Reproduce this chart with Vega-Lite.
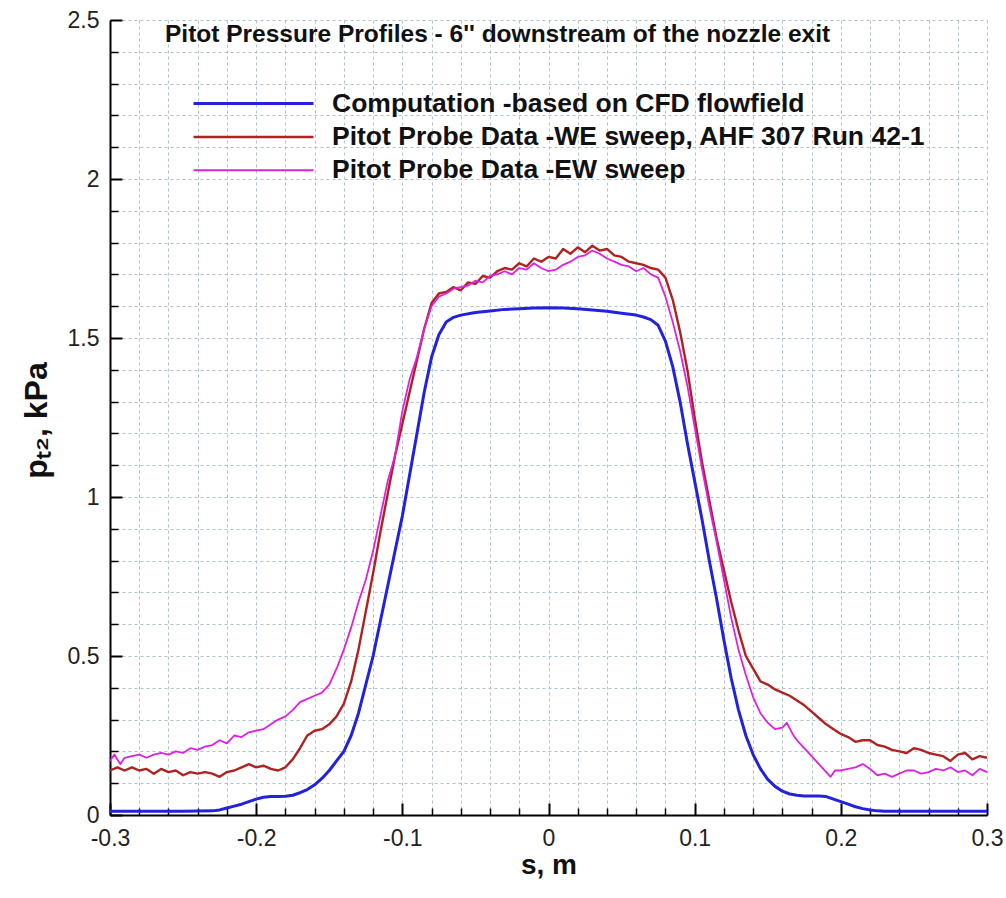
{
  "$schema": "https://vega.github.io/schema/vega-lite/v6.json",
  "autosize": "none",
  "width": 877,
  "height": 795,
  "padding": {"left": 110, "top": 20, "right": 19, "bottom": 83},
  "background": "white",
  "title": {"text": "Pitot Pressure Profiles - 6'' downstream of the nozzle exit", "anchor": "start", "frame": "group", "orient": "top", "offset": -38, "dx": 55, "font": "Liberation Sans", "fontSize": 24.5, "fontWeight": "bold", "color": "#111"},
  "config": {"view": {"stroke": null}},
  "data": {"values": [
    {"g":"CFD","s":-0.3,"p":0.012},{"g":"CFD","s":-0.25,"p":0.012},{"g":"CFD","s":-0.23,"p":0.013},{"g":"CFD","s":-0.225,"p":0.016},{"g":"CFD","s":-0.22,"p":0.022},{"g":"CFD","s":-0.215,"p":0.028},{"g":"CFD","s":-0.21,"p":0.034},{"g":"CFD","s":-0.205,"p":0.042},{"g":"CFD","s":-0.2,"p":0.05},{"g":"CFD","s":-0.195,"p":0.056},{"g":"CFD","s":-0.19,"p":0.058},{"g":"CFD","s":-0.185,"p":0.058},{"g":"CFD","s":-0.18,"p":0.059},{"g":"CFD","s":-0.175,"p":0.062},{"g":"CFD","s":-0.17,"p":0.07},{"g":"CFD","s":-0.165,"p":0.08},{"g":"CFD","s":-0.16,"p":0.095},{"g":"CFD","s":-0.155,"p":0.115},{"g":"CFD","s":-0.15,"p":0.14},{"g":"CFD","s":-0.145,"p":0.17},{"g":"CFD","s":-0.14,"p":0.2},{"g":"CFD","s":-0.135,"p":0.25},{"g":"CFD","s":-0.13,"p":0.32},{"g":"CFD","s":-0.125,"p":0.41},{"g":"CFD","s":-0.12,"p":0.5},{"g":"CFD","s":-0.115,"p":0.61},{"g":"CFD","s":-0.11,"p":0.72},{"g":"CFD","s":-0.105,"p":0.83},{"g":"CFD","s":-0.1,"p":0.94},{"g":"CFD","s":-0.095,"p":1.07},{"g":"CFD","s":-0.09,"p":1.2},{"g":"CFD","s":-0.085,"p":1.33},{"g":"CFD","s":-0.08,"p":1.44},{"g":"CFD","s":-0.075,"p":1.51},{"g":"CFD","s":-0.07,"p":1.55},{"g":"CFD","s":-0.065,"p":1.565},{"g":"CFD","s":-0.06,"p":1.572},{"g":"CFD","s":-0.05,"p":1.58},{"g":"CFD","s":-0.04,"p":1.585},{"g":"CFD","s":-0.03,"p":1.59},{"g":"CFD","s":-0.02,"p":1.592},{"g":"CFD","s":-0.01,"p":1.594},{"g":"CFD","s":0.0,"p":1.595},{"g":"CFD","s":0.01,"p":1.594},{"g":"CFD","s":0.02,"p":1.592},{"g":"CFD","s":0.03,"p":1.588},{"g":"CFD","s":0.04,"p":1.584},{"g":"CFD","s":0.05,"p":1.578},{"g":"CFD","s":0.06,"p":1.572},{"g":"CFD","s":0.065,"p":1.566},{"g":"CFD","s":0.07,"p":1.558},{"g":"CFD","s":0.075,"p":1.54},{"g":"CFD","s":0.08,"p":1.49},{"g":"CFD","s":0.085,"p":1.41},{"g":"CFD","s":0.09,"p":1.3},{"g":"CFD","s":0.095,"p":1.17},{"g":"CFD","s":0.1,"p":1.05},{"g":"CFD","s":0.105,"p":0.93},{"g":"CFD","s":0.11,"p":0.8},{"g":"CFD","s":0.115,"p":0.68},{"g":"CFD","s":0.12,"p":0.55},{"g":"CFD","s":0.125,"p":0.43},{"g":"CFD","s":0.13,"p":0.33},{"g":"CFD","s":0.135,"p":0.25},{"g":"CFD","s":0.14,"p":0.19},{"g":"CFD","s":0.145,"p":0.145},{"g":"CFD","s":0.15,"p":0.112},{"g":"CFD","s":0.155,"p":0.09},{"g":"CFD","s":0.16,"p":0.075},{"g":"CFD","s":0.165,"p":0.066},{"g":"CFD","s":0.17,"p":0.062},{"g":"CFD","s":0.175,"p":0.06},{"g":"CFD","s":0.18,"p":0.06},{"g":"CFD","s":0.185,"p":0.06},{"g":"CFD","s":0.19,"p":0.058},{"g":"CFD","s":0.195,"p":0.05},{"g":"CFD","s":0.2,"p":0.042},{"g":"CFD","s":0.205,"p":0.034},{"g":"CFD","s":0.21,"p":0.026},{"g":"CFD","s":0.215,"p":0.02},{"g":"CFD","s":0.22,"p":0.016},{"g":"CFD","s":0.225,"p":0.013},{"g":"CFD","s":0.23,"p":0.012},{"g":"CFD","s":0.3,"p":0.012},

    {"g":"WE","s":-0.3,"p":0.14},{"g":"WE","s":-0.295,"p":0.15},{"g":"WE","s":-0.29,"p":0.14},{"g":"WE","s":-0.285,"p":0.15},{"g":"WE","s":-0.28,"p":0.14},{"g":"WE","s":-0.275,"p":0.145},{"g":"WE","s":-0.27,"p":0.13},{"g":"WE","s":-0.265,"p":0.145},{"g":"WE","s":-0.26,"p":0.135},{"g":"WE","s":-0.255,"p":0.14},{"g":"WE","s":-0.25,"p":0.125},{"g":"WE","s":-0.245,"p":0.135},{"g":"WE","s":-0.24,"p":0.13},{"g":"WE","s":-0.235,"p":0.135},{"g":"WE","s":-0.23,"p":0.13},{"g":"WE","s":-0.225,"p":0.12},{"g":"WE","s":-0.22,"p":0.135},{"g":"WE","s":-0.215,"p":0.14},{"g":"WE","s":-0.21,"p":0.15},{"g":"WE","s":-0.205,"p":0.16},{"g":"WE","s":-0.2,"p":0.15},{"g":"WE","s":-0.195,"p":0.155},{"g":"WE","s":-0.19,"p":0.145},{"g":"WE","s":-0.185,"p":0.14},{"g":"WE","s":-0.18,"p":0.15},{"g":"WE","s":-0.175,"p":0.175},{"g":"WE","s":-0.17,"p":0.21},{"g":"WE","s":-0.165,"p":0.25},{"g":"WE","s":-0.16,"p":0.265},{"g":"WE","s":-0.155,"p":0.27},{"g":"WE","s":-0.15,"p":0.285},{"g":"WE","s":-0.145,"p":0.31},{"g":"WE","s":-0.14,"p":0.35},{"g":"WE","s":-0.135,"p":0.42},{"g":"WE","s":-0.13,"p":0.52},{"g":"WE","s":-0.125,"p":0.64},{"g":"WE","s":-0.12,"p":0.76},{"g":"WE","s":-0.115,"p":0.89},{"g":"WE","s":-0.11,"p":1.01},{"g":"WE","s":-0.105,"p":1.13},{"g":"WE","s":-0.1,"p":1.23},{"g":"WE","s":-0.095,"p":1.33},{"g":"WE","s":-0.09,"p":1.43},{"g":"WE","s":-0.085,"p":1.53},{"g":"WE","s":-0.08,"p":1.61},{"g":"WE","s":-0.075,"p":1.64},{"g":"WE","s":-0.07,"p":1.645},{"g":"WE","s":-0.065,"p":1.66},{"g":"WE","s":-0.06,"p":1.65},{"g":"WE","s":-0.055,"p":1.675},{"g":"WE","s":-0.05,"p":1.67},{"g":"WE","s":-0.045,"p":1.695},{"g":"WE","s":-0.04,"p":1.69},{"g":"WE","s":-0.035,"p":1.71},{"g":"WE","s":-0.03,"p":1.72},{"g":"WE","s":-0.025,"p":1.715},{"g":"WE","s":-0.02,"p":1.735},{"g":"WE","s":-0.015,"p":1.725},{"g":"WE","s":-0.01,"p":1.75},{"g":"WE","s":-0.005,"p":1.74},{"g":"WE","s":0.0,"p":1.755},{"g":"WE","s":0.005,"p":1.75},{"g":"WE","s":0.01,"p":1.78},{"g":"WE","s":0.015,"p":1.765},{"g":"WE","s":0.02,"p":1.785},{"g":"WE","s":0.025,"p":1.77},{"g":"WE","s":0.03,"p":1.79},{"g":"WE","s":0.035,"p":1.775},{"g":"WE","s":0.04,"p":1.78},{"g":"WE","s":0.045,"p":1.76},{"g":"WE","s":0.05,"p":1.755},{"g":"WE","s":0.055,"p":1.74},{"g":"WE","s":0.06,"p":1.735},{"g":"WE","s":0.065,"p":1.73},{"g":"WE","s":0.07,"p":1.72},{"g":"WE","s":0.075,"p":1.715},{"g":"WE","s":0.08,"p":1.69},{"g":"WE","s":0.085,"p":1.62},{"g":"WE","s":0.09,"p":1.52},{"g":"WE","s":0.095,"p":1.4},{"g":"WE","s":0.1,"p":1.25},{"g":"WE","s":0.105,"p":1.11},{"g":"WE","s":0.11,"p":0.99},{"g":"WE","s":0.115,"p":0.87},{"g":"WE","s":0.12,"p":0.77},{"g":"WE","s":0.125,"p":0.67},{"g":"WE","s":0.13,"p":0.58},{"g":"WE","s":0.135,"p":0.5},{"g":"WE","s":0.14,"p":0.46},{"g":"WE","s":0.145,"p":0.42},{"g":"WE","s":0.15,"p":0.41},{"g":"WE","s":0.155,"p":0.395},{"g":"WE","s":0.16,"p":0.385},{"g":"WE","s":0.165,"p":0.375},{"g":"WE","s":0.17,"p":0.36},{"g":"WE","s":0.175,"p":0.345},{"g":"WE","s":0.18,"p":0.325},{"g":"WE","s":0.185,"p":0.305},{"g":"WE","s":0.19,"p":0.285},{"g":"WE","s":0.195,"p":0.27},{"g":"WE","s":0.2,"p":0.255},{"g":"WE","s":0.205,"p":0.245},{"g":"WE","s":0.21,"p":0.23},{"g":"WE","s":0.215,"p":0.235},{"g":"WE","s":0.22,"p":0.235},{"g":"WE","s":0.225,"p":0.22},{"g":"WE","s":0.23,"p":0.215},{"g":"WE","s":0.235,"p":0.205},{"g":"WE","s":0.24,"p":0.2},{"g":"WE","s":0.245,"p":0.195},{"g":"WE","s":0.25,"p":0.21},{"g":"WE","s":0.255,"p":0.205},{"g":"WE","s":0.26,"p":0.195},{"g":"WE","s":0.265,"p":0.19},{"g":"WE","s":0.27,"p":0.185},{"g":"WE","s":0.275,"p":0.17},{"g":"WE","s":0.28,"p":0.19},{"g":"WE","s":0.285,"p":0.195},{"g":"WE","s":0.29,"p":0.175},{"g":"WE","s":0.295,"p":0.185},{"g":"WE","s":0.3,"p":0.18},

    {"g":"EW","s":-0.3,"p":0.17},{"g":"EW","s":-0.297,"p":0.19},{"g":"EW","s":-0.293,"p":0.16},{"g":"EW","s":-0.29,"p":0.18},{"g":"EW","s":-0.285,"p":0.185},{"g":"EW","s":-0.28,"p":0.19},{"g":"EW","s":-0.275,"p":0.18},{"g":"EW","s":-0.27,"p":0.19},{"g":"EW","s":-0.265,"p":0.195},{"g":"EW","s":-0.26,"p":0.19},{"g":"EW","s":-0.255,"p":0.2},{"g":"EW","s":-0.25,"p":0.195},{"g":"EW","s":-0.245,"p":0.21},{"g":"EW","s":-0.24,"p":0.205},{"g":"EW","s":-0.235,"p":0.215},{"g":"EW","s":-0.23,"p":0.22},{"g":"EW","s":-0.225,"p":0.235},{"g":"EW","s":-0.22,"p":0.225},{"g":"EW","s":-0.215,"p":0.25},{"g":"EW","s":-0.21,"p":0.245},{"g":"EW","s":-0.205,"p":0.26},{"g":"EW","s":-0.2,"p":0.265},{"g":"EW","s":-0.195,"p":0.27},{"g":"EW","s":-0.19,"p":0.285},{"g":"EW","s":-0.185,"p":0.3},{"g":"EW","s":-0.18,"p":0.31},{"g":"EW","s":-0.175,"p":0.33},{"g":"EW","s":-0.17,"p":0.355},{"g":"EW","s":-0.165,"p":0.365},{"g":"EW","s":-0.16,"p":0.375},{"g":"EW","s":-0.155,"p":0.385},{"g":"EW","s":-0.15,"p":0.41},{"g":"EW","s":-0.145,"p":0.46},{"g":"EW","s":-0.14,"p":0.52},{"g":"EW","s":-0.135,"p":0.59},{"g":"EW","s":-0.13,"p":0.67},{"g":"EW","s":-0.125,"p":0.74},{"g":"EW","s":-0.12,"p":0.83},{"g":"EW","s":-0.115,"p":0.94},{"g":"EW","s":-0.11,"p":1.05},{"g":"EW","s":-0.105,"p":1.13},{"g":"EW","s":-0.1,"p":1.27},{"g":"EW","s":-0.095,"p":1.37},{"g":"EW","s":-0.09,"p":1.44},{"g":"EW","s":-0.085,"p":1.53},{"g":"EW","s":-0.08,"p":1.6},{"g":"EW","s":-0.075,"p":1.63},{"g":"EW","s":-0.07,"p":1.64},{"g":"EW","s":-0.065,"p":1.655},{"g":"EW","s":-0.06,"p":1.66},{"g":"EW","s":-0.055,"p":1.665},{"g":"EW","s":-0.05,"p":1.68},{"g":"EW","s":-0.045,"p":1.675},{"g":"EW","s":-0.04,"p":1.695},{"g":"EW","s":-0.035,"p":1.7},{"g":"EW","s":-0.03,"p":1.71},{"g":"EW","s":-0.025,"p":1.7},{"g":"EW","s":-0.02,"p":1.72},{"g":"EW","s":-0.015,"p":1.715},{"g":"EW","s":-0.01,"p":1.735},{"g":"EW","s":-0.005,"p":1.72},{"g":"EW","s":0.0,"p":1.71},{"g":"EW","s":0.005,"p":1.715},{"g":"EW","s":0.01,"p":1.73},{"g":"EW","s":0.015,"p":1.74},{"g":"EW","s":0.02,"p":1.755},{"g":"EW","s":0.025,"p":1.76},{"g":"EW","s":0.03,"p":1.775},{"g":"EW","s":0.035,"p":1.765},{"g":"EW","s":0.04,"p":1.75},{"g":"EW","s":0.045,"p":1.74},{"g":"EW","s":0.05,"p":1.73},{"g":"EW","s":0.055,"p":1.725},{"g":"EW","s":0.06,"p":1.71},{"g":"EW","s":0.065,"p":1.72},{"g":"EW","s":0.07,"p":1.7},{"g":"EW","s":0.075,"p":1.69},{"g":"EW","s":0.08,"p":1.63},{"g":"EW","s":0.085,"p":1.55},{"g":"EW","s":0.09,"p":1.46},{"g":"EW","s":0.095,"p":1.35},{"g":"EW","s":0.1,"p":1.22},{"g":"EW","s":0.105,"p":1.09},{"g":"EW","s":0.11,"p":0.97},{"g":"EW","s":0.115,"p":0.86},{"g":"EW","s":0.12,"p":0.74},{"g":"EW","s":0.125,"p":0.62},{"g":"EW","s":0.13,"p":0.52},{"g":"EW","s":0.135,"p":0.44},{"g":"EW","s":0.14,"p":0.37},{"g":"EW","s":0.145,"p":0.32},{"g":"EW","s":0.15,"p":0.29},{"g":"EW","s":0.155,"p":0.27},{"g":"EW","s":0.16,"p":0.275},{"g":"EW","s":0.163,"p":0.29},{"g":"EW","s":0.167,"p":0.255},{"g":"EW","s":0.17,"p":0.235},{"g":"EW","s":0.175,"p":0.21},{"g":"EW","s":0.18,"p":0.185},{"g":"EW","s":0.185,"p":0.16},{"g":"EW","s":0.19,"p":0.135},{"g":"EW","s":0.193,"p":0.12},{"g":"EW","s":0.196,"p":0.14},{"g":"EW","s":0.2,"p":0.14},{"g":"EW","s":0.205,"p":0.145},{"g":"EW","s":0.21,"p":0.15},{"g":"EW","s":0.215,"p":0.16},{"g":"EW","s":0.22,"p":0.145},{"g":"EW","s":0.225,"p":0.125},{"g":"EW","s":0.23,"p":0.13},{"g":"EW","s":0.235,"p":0.12},{"g":"EW","s":0.24,"p":0.13},{"g":"EW","s":0.245,"p":0.14},{"g":"EW","s":0.25,"p":0.14},{"g":"EW","s":0.255,"p":0.13},{"g":"EW","s":0.26,"p":0.135},{"g":"EW","s":0.265,"p":0.145},{"g":"EW","s":0.27,"p":0.14},{"g":"EW","s":0.275,"p":0.15},{"g":"EW","s":0.28,"p":0.135},{"g":"EW","s":0.285,"p":0.14},{"g":"EW","s":0.29,"p":0.125},{"g":"EW","s":0.295,"p":0.145},{"g":"EW","s":0.3,"p":0.135}
  ]},
  "mark": {"type": "line", "strokeJoin": "round"},
  "encoding": {
    "x": {
      "field": "s", "type": "quantitative",
      "scale": {"domain": [-0.3, 0.3], "nice": false, "zero": false},
      "axis": {
        "values": [-0.3,-0.28,-0.26,-0.24,-0.22,-0.2,-0.18,-0.16,-0.14,-0.12,-0.1,-0.08,-0.06,-0.04,-0.02,0,0.02,0.04,0.06,0.08,0.1,0.12,0.14,0.16,0.18,0.2,0.22,0.24,0.26,0.28,0.3],
        "grid": true, "gridColor": "#b0c2cc", "gridDash": [3, 3], "gridWidth": 1,
        "domain": true, "domainColor": "black", "domainWidth": 2,
        "ticks": true, "tickColor": "black",
        "tickWidth": {"condition": {"test": "abs(datum.value*10 - round(datum.value*10)) < 0.001", "value": 2}, "value": 1.5},
        "tickSize": {"condition": {"test": "abs(datum.value*10 - round(datum.value*10)) < 0.001", "value": -12}, "value": -7},
        "labelExpr": "abs(datum.value*10 - round(datum.value*10)) < 0.001 ? toString(round(datum.value*10)/10) : ''",
        "labelFont": "Liberation Sans", "labelFontSize": 23, "labelColor": "#222",
        "labelPadding": 24, "labelFlush": false, "labelOverlap": false, "labelBound": false,
        "title": "s, m", "titleFont": "Liberation Sans", "titleFontSize": 28, "titleFontWeight": "bold", "titleColor": "#111",
        "titleX": 438.5, "titleY": 50, "titleBaseline": "middle", "titleAlign": "center"
      }
    },
    "y": {
      "field": "p", "type": "quantitative",
      "scale": {"domain": [0, 2.5], "nice": false},
      "axis": {
        "values": [0,0.1,0.2,0.3,0.4,0.5,0.6,0.7,0.8,0.9,1,1.1,1.2,1.3,1.4,1.5,1.6,1.7,1.8,1.9,2,2.1,2.2,2.3,2.4,2.5],
        "grid": true, "gridColor": "#b0c2cc", "gridDash": [3, 3], "gridWidth": 1,
        "domain": true, "domainColor": "black", "domainWidth": 2,
        "ticks": true, "tickColor": "black",
        "tickWidth": {"condition": {"test": "abs(datum.value*2 - round(datum.value*2)) < 0.001", "value": 2}, "value": 1.5},
        "tickSize": {"condition": {"test": "abs(datum.value*2 - round(datum.value*2)) < 0.001", "value": -12}, "value": -8},
        "labelExpr": "abs(datum.value*2 - round(datum.value*2)) < 0.001 ? toString(round(datum.value*10)/10) : ''",
        "labelFont": "Liberation Sans", "labelFontSize": 23, "labelColor": "#222",
        "labelPadding": 23, "labelFlush": false, "labelOverlap": false, "labelBound": false,
        "title": "pₜ₂, kPa", "titleFont": "Liberation Sans", "titleFontSize": 32, "titleFontWeight": "bold", "titleColor": "#111",
        "titleX": -74, "titleY": 400, "titleAngle": 270, "titleBaseline": "middle", "titleAlign": "center"
      }
    },
    "color": {
      "field": "g", "type": "nominal",
      "scale": {"domain": ["CFD", "WE", "EW"], "range": ["#2222dd", "#b02222", "#e020e0"]},
      "legend": {
        "orient": "none", "legendX": 130, "legendY": 70, "title": null, "padding": 0,
        "symbolType": "M-5,0H5", "symbolSize": 576, "symbolStrokeWidth": 3,
        "labelFont": "Liberation Sans", "labelFontWeight": "bold", "labelFontSize": 26.5, "labelColor": "#111",
        "labelOffset": 65, "labelLimit": 900, "rowPadding": 6.5,
        "labelExpr": "datum.label == 'CFD' ? 'Computation -based on CFD flowfield' : datum.label == 'WE' ? 'Pitot Probe Data -WE sweep, AHF 307 Run 42-1' : 'Pitot Probe Data -EW sweep'"
      }
    },
    "strokeWidth": {
      "field": "g", "type": "nominal",
      "scale": {"domain": ["CFD", "WE", "EW"], "range": [3, 1.8, 1.8]},
      "legend": null
    }
  }
}
